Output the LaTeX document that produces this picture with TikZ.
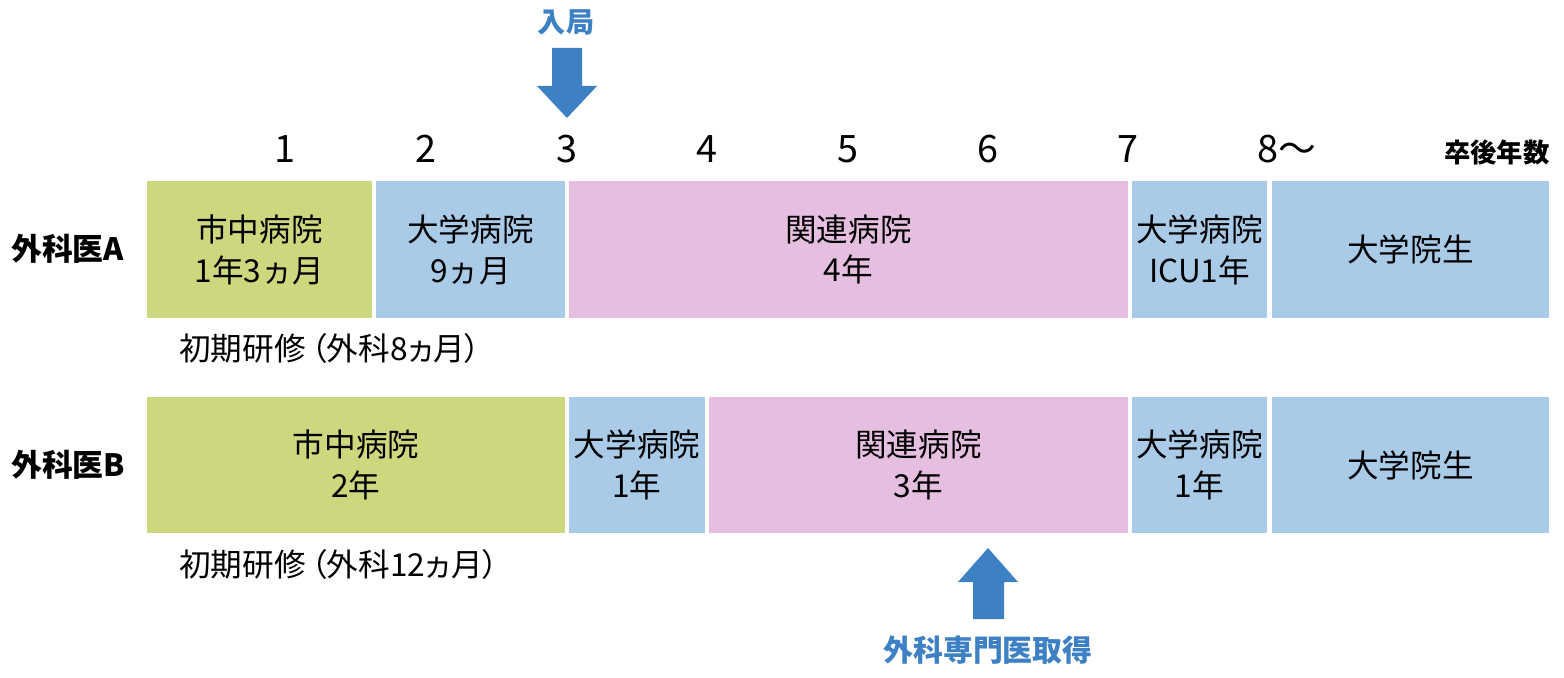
\documentclass[tikz,border=0pt]{standalone}
\usepackage{fontspec}
\setmainfont{Noto Sans CJK JP}
\newfontfamily\jpp[RawFeature=+palt]{Noto Sans CJK JP}
\definecolor{cgreen}{HTML}{CDD77E}
\definecolor{cblue}{HTML}{A9CBE8}
\definecolor{cpink}{HTML}{E6BEE0}
\definecolor{carrow}{HTML}{3D80C3}
\begin{document}
\begin{tikzpicture}[x=0.02cm,y=-0.02cm,
  box/.style={draw=none,inner sep=0pt,align=center,font=\fontsize{18}{23.3}\selectfont},
  lbl/.style={inner sep=0pt,font=\fontsize{18}{22}\selectfont},
  yr/.style={inner sep=0pt,font=\fontsize{21.5}{24}\selectfont},
  rowlbl/.style={inner sep=0pt,font=\fontsize{17.5}{22}\selectfont\bfseries},
  bluelbl/.style={inner sep=0pt,text=carrow,font=\fontsize{17}{22}\selectfont\bfseries},
  bigarrow/.style={fill=carrow,draw=none}]
\useasboundingbox (0,0) rectangle (1564,678);
% year numbers
\node[yr] (y1) at (285,149) {1};
\node[yr] (y2) at (426,149) {2};
\node[yr] (y3) at (567,149) {3};
\node[yr] (y4) at (707,149) {4};
\node[yr] (y5) at (848,149) {5};
\node[yr] (y6) at (988,149) {6};
\node[yr] (y7) at (1128,149) {7};
\node[yr,anchor=west] (y8) at (1257,149) {8～};
\node[inner sep=0pt,font=\fontsize{15}{18}\selectfont\bfseries,anchor=east] (unit) at (1550,152) {卒後年数};
% row labels
\node[rowlbl,anchor=west] (la) at (11,249) {外科医A};
\node[rowlbl,anchor=west] (lb) at (11,465) {外科医B};
% row A
\node[box,fill=cgreen,minimum width=4.5cm,minimum height=2.74cm] (a1) at (259.5,249.5) {市中病院\\1年3ヵ月};
\node[box,fill=cblue,minimum width=3.78cm,minimum height=2.74cm] (a2) at (470.5,249.5) {大学病院\\9ヵ月};
\node[box,fill=cpink,minimum width=11.18cm,minimum height=2.74cm] (a3) at (848.5,249.5) {関連病院\\4年};
\node[box,fill=cblue,minimum width=2.7cm,minimum height=2.74cm] (a4) at (1199.5,249.5) {大学病院\\ICU1年};
\node[box,fill=cblue,minimum width=5.54cm,minimum height=2.74cm] (a5) at (1410.5,249.5) {大学院生};
% row B
\node[box,fill=cgreen,minimum width=8.36cm,minimum height=2.72cm] (b1) at (356,465) {市中病院\\2年};
\node[box,fill=cblue,minimum width=2.72cm,minimum height=2.72cm] (b2) at (637,465) {大学病院\\1年};
\node[box,fill=cpink,minimum width=8.38cm,minimum height=2.72cm] (b3) at (918.5,465) {関連病院\\3年};
\node[box,fill=cblue,minimum width=2.7cm,minimum height=2.72cm] (b4) at (1199.5,465) {大学病院\\1年};
\node[box,fill=cblue,minimum width=5.54cm,minimum height=2.72cm] (b5) at (1410.5,465) {大学院生};
% notes
\node[lbl,anchor=west,font=\fontsize{18}{22}\jpp] (na) at (179,348) {初期研修\kern3pt（外科8ヵ月）};
\node[lbl,anchor=west,font=\fontsize{18}{22}\jpp] (nb) at (179,564) {初期研修\kern3pt（外科12ヵ月）};
% top arrow
\node[bluelbl,font=\fontsize{16}{20}\selectfont\bfseries] (nyu) at (566,22) {入局};
\fill[bigarrow] (552,48) -- (582,48) -- (582,86) -- (597,86) -- (567,118) -- (537,86) -- (552,86) -- cycle;
% bottom arrow
\fill[bigarrow] (973,619) -- (1004,619) -- (1004,582) -- (1018,582) -- (988,548) -- (958,582) -- (973,582) -- cycle;
\node[bluelbl] (sen) at (988,650) {外科専門医取得};
\end{tikzpicture}
\end{document}
